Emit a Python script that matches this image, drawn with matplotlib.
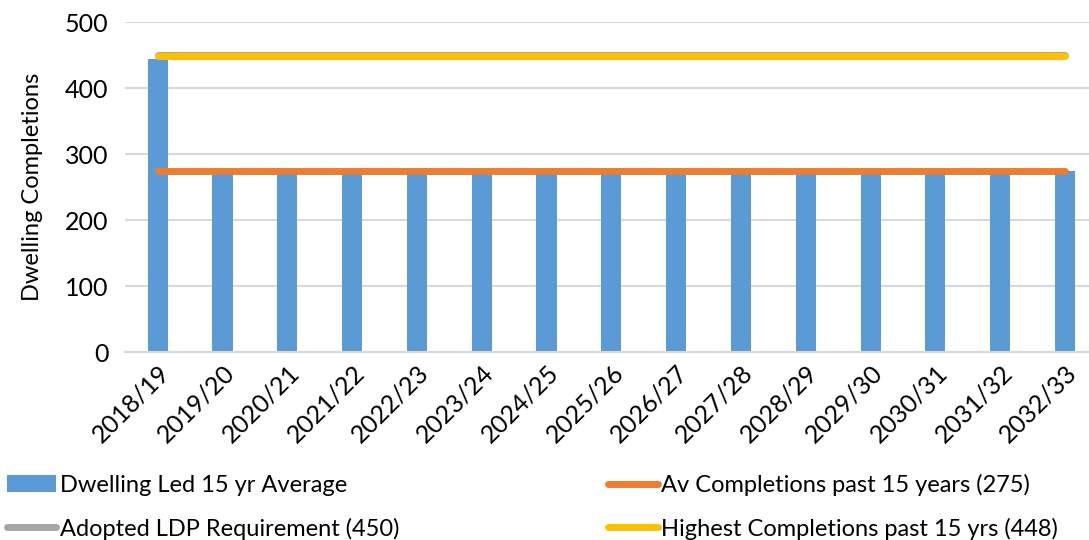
import matplotlib
matplotlib.use("Agg")
import matplotlib.pyplot as plt
import numpy as np

years = ["2018/19", "2019/20", "2020/21", "2021/22", "2022/23", "2023/24", "2024/25",
         "2025/26", "2026/27", "2027/28", "2028/29", "2029/30", "2030/31", "2031/32", "2032/33"]
dwelling_led = [444, 275, 275, 275, 275, 275, 275, 275, 275, 275, 275, 275, 275, 275, 275]
av_completions = [275] * 15
ldp_requirement = [450] * 15
highest_completions = [448] * 15

plt.rcParams["font.family"] = ["Lato", "DejaVu Sans"]

fig = plt.figure(figsize=(10.89, 5.4), dpi=100)
ax = fig.add_axes([0.115, 0.348, 0.885, 0.611])

x = np.arange(len(years))
bars = ax.bar(x, dwelling_led, width=0.31, color="#5B9BD5", zorder=2,
              label="Dwelling Led 15 yr Average")
l_av, = ax.plot(x, av_completions, color="#ED7D31", lw=5, solid_capstyle="round", zorder=3,
                label="Av Completions past 15 years (275)")
l_ldp, = ax.plot(x, ldp_requirement, color="#A5A5A5", lw=5, solid_capstyle="round", zorder=3,
                 label="Adopted LDP Requirement (450)")
l_hi, = ax.plot(x, highest_completions, color="#FFC000", lw=5, solid_capstyle="round", zorder=4,
                label="Highest Completions past 15 yrs (448)")

ax.set_xlim(-0.5, len(years) - 1 + 0.37)
ax.set_ylim(0, 500)
ax.set_yticks(range(0, 501, 100))
ax.yaxis.grid(True, color="#D9D9D9", lw=1.5, zorder=0)
ax.set_axisbelow(True)
for s in ["top", "right", "left"]:
    ax.spines[s].set_visible(False)
ax.spines["bottom"].set_color("#D9D9D9")
ax.spines["bottom"].set_linewidth(1.5)
ax.tick_params(axis="y", length=0, labelsize=18, pad=12)
ax.tick_params(axis="x", length=0, labelsize=18, pad=6)
ax.set_xticks(x)
ax.set_xticklabels(years, rotation=45, ha="right", rotation_mode="anchor")
ax.set_ylabel("Dwelling Completions", fontsize=17, labelpad=16)

fig.legend([bars, l_ldp, l_av, l_hi],
           [bars.get_label(), l_ldp.get_label(), l_av.get_label(), l_hi.get_label()],
           ncol=2, loc="lower left", bbox_to_anchor=(-0.009, -0.03), frameon=False,
           fontsize=17, handlelength=2.1, handletextpad=0.15, columnspacing=8.85,
           labelspacing=0.92, borderaxespad=0.3)

fig.savefig("out.png", dpi=100)
